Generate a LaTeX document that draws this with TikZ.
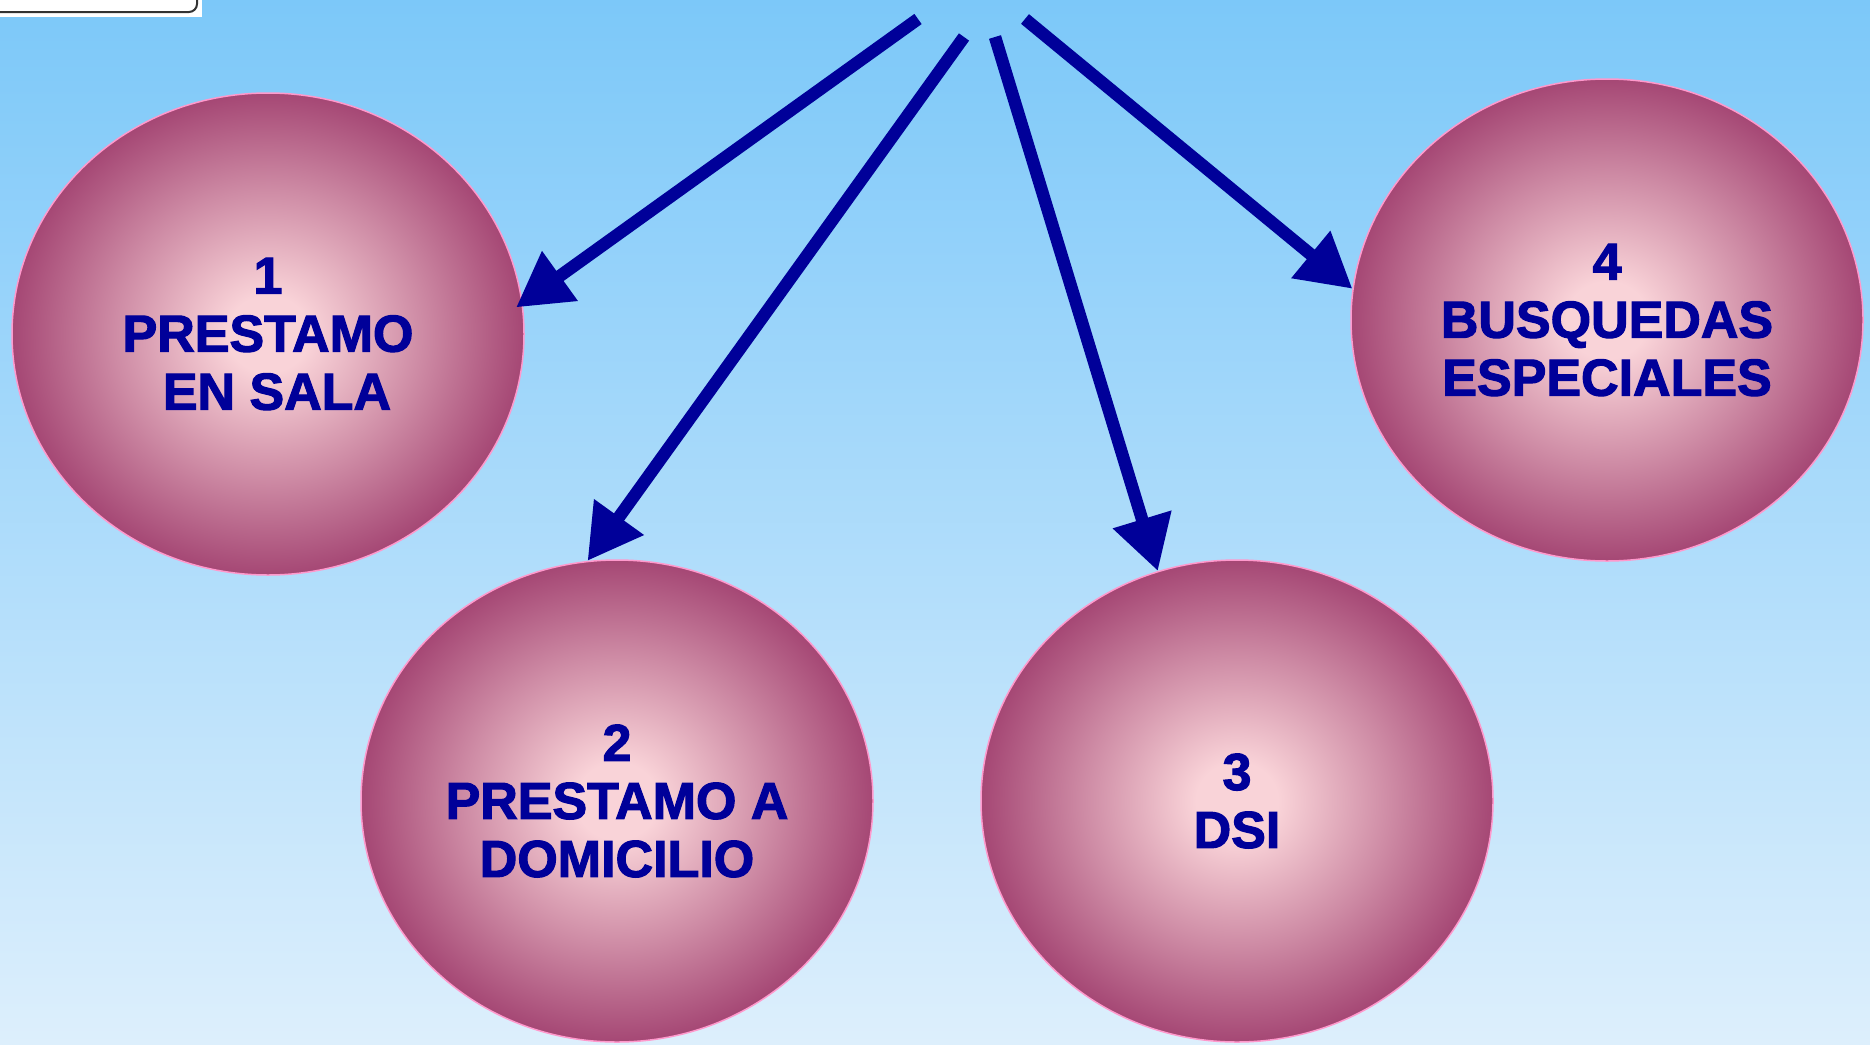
\documentclass[tikz,border=0pt]{standalone}
\usepackage{fontspec}
\setmainfont{Liberation Sans}
\newfontfamily\heavyfont{Liberation Sans Bold}[FakeBold=2.2]
\usetikzlibrary{shapes.geometric,arrows.meta}
\definecolor{navyc}{HTML}{000099}
\definecolor{pinkc}{HTML}{F9D3D8}
\definecolor{plumc}{HTML}{993366}
\definecolor{rimc}{HTML}{FF99CC}
\definecolor{skytop}{HTML}{7CC8F9}
\definecolor{skybot}{HTML}{DDEFFC}
\colorlet{midc}{pinkc!55!plumc}
\pgfdeclareradialshading{ballshade}{\pgfpoint{0bp}{0bp}}{color(0bp)=(pinkc); color(4bp)=(pinkc); color(15bp)=(midc); color(28bp)=(plumc); color(50bp)=(plumc)}
\tikzset{
  ball/.style={ellipse, minimum width=512pt, minimum height=482pt, inner sep=0pt,
    shade, shading=ballshade, draw=rimc, line width=1.5pt, text=navyc,
    font=\fontsize{52}{58}\selectfont\heavyfont, align=center},
  link/.style={draw=navyc, line width=12.5pt, -{Triangle[length=54pt,width=58pt]}}
}
\begin{document}
\begin{tikzpicture}[x=1pt,y=-1pt]
\shade[top color=skytop, bottom color=skybot] (0,0) rectangle (1870,1044);
\useasboundingbox (0,0) rectangle (1870,1044);
% top-left box
\fill[white] (0,0) rectangle (202,17);
\draw[line width=2pt, black!80, rounded corners=8pt] (-5,12) -- (197,12) -- (197,-10);
% ellipses
\node[ball] (e1) at (268,334) {1\\PRESTAMO\\\hspace*{18pt}EN SALA};
\node[ball] (e2) at (617,801) {2\\PRESTAMO A\hspace*{16pt}\\DOMICILIO};
\node[ball] (e3) at (1237,801) {3\\DSI};
\node[ball] (e4) at (1607,320) {4\\BUSQUEDAS\\ESPECIALES};
% arrow starts
\coordinate (s1) at (918,19);
\coordinate (s2) at (964,37);
\coordinate (s3) at (995,37);
\coordinate (s4) at (1025,19);
\draw[link, shorten >=-8pt] (s1) -- (e1.7);
\draw[link] (s2) -- (e2.97);
\draw[link] (s3) -- (e3.109);
\draw[link] (s4) -- (e4.173);
\end{tikzpicture}
\end{document}
